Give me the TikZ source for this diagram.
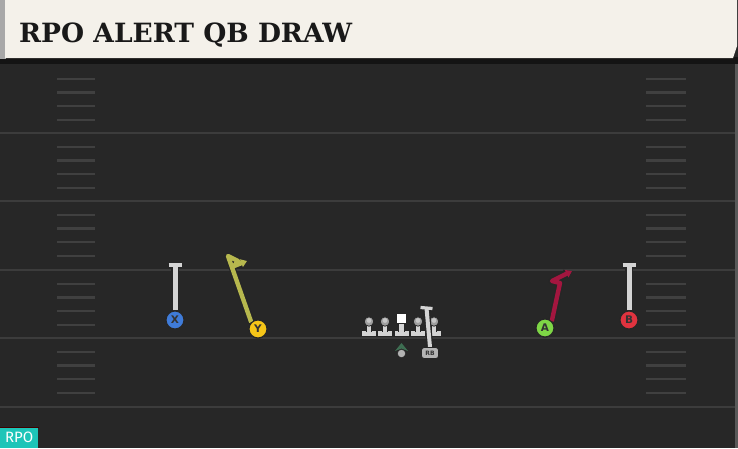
\documentclass[tikz,border=0pt]{standalone}
\usepackage{fontspec}
\setmainfont{DejaVu Serif}
\newfontfamily\titlefont{DejaVu Serif}
\newfontfamily\labfont{Fira Sans}
\newfontfamily\letterfont{DejaVu Sans}
\usetikzlibrary{arrows.meta}
\definecolor{fieldbg}{HTML}{272727}
\definecolor{fieldline}{HTML}{3C3C3C}
\definecolor{hashc}{HTML}{404040}
\definecolor{cream}{HTML}{F4F1EA}
\definecolor{hdrgray}{HTML}{A8A8A8}
\definecolor{stemc}{HTML}{D4D4D4}
\definecolor{xblue}{HTML}{3F7BD8}
\definecolor{yyellow}{HTML}{F5C518}
\definecolor{agreen}{HTML}{7ED646}
\definecolor{bred}{HTML}{E0333F}
\definecolor{yroute}{HTML}{B7B84E}
\definecolor{aroute}{HTML}{A3163F}
\definecolor{qbgreen}{HTML}{3E6E52}
\definecolor{rpoteal}{HTML}{1DC5B8}
\tikzset{
  fline/.style={draw=fieldline, line width=2.4pt},
  hashmark/.style={draw=hashc, line width=2.4pt},
  player/.style={circle, draw=black!85, line width=1.1pt, minimum size=18pt, inner sep=0pt,
     font=\letterfont\bfseries\fontsize{10.5}{10.5}\selectfont, text=black!80},
  stemout/.style={draw=black!85, line width=7.5pt},
  stemin/.style={draw=stemc, line width=5pt},
  routeout/.style={draw=black!85, line width=6.8pt, line join=round},
  routein/.style={line width=4.4pt, line join=round},
  lmbody/.style={fill=stemc, draw=black!85, line width=0.9pt},
  rbbox/.style={rounded corners=2.5pt, fill=stemc!85!black, draw=black!85, line width=0.9pt,
     minimum width=17pt, minimum height=11pt, inner sep=0pt,
     font=\letterfont\bfseries\fontsize{6}{6}\selectfont, text=black!80},
}
\begin{document}
\begin{tikzpicture}[x=1pt,y=-1pt]
\useasboundingbox (0,0) rectangle (738,448);
\fill[fieldbg] (0,0) rectangle (738,448);
% field lines
\foreach \yy in {133,201,270,338,407} { \draw[fline] (0,\yy) -- (738,\yy); }
% hash marks
\foreach \base in {65,133,201,270,338} {
  \foreach \k in {1,2,3,4} {
    \draw[hashmark] (57,\base+\k*13.7) -- (95,\base+\k*13.7);
    \draw[hashmark] (646,\base+\k*13.7) -- (686,\base+\k*13.7);
  }
}
% right edge strip
\fill[black!65] (735,62) rectangle (738,448);
% header
\fill[black!92] (0,57) rectangle (738,64);
\fill[hdrgray] (0,0) rectangle (6,59);
\fill[cream] (5,0) -- (737,0) -- (737,46) -- (733,58) -- (5,58) -- cycle;
\node[anchor=base west, inner sep=0pt, font=\titlefont\bfseries\fontsize{26.5}{26.5}\selectfont, text=black!90] (title) at (19,42.5) {RPO ALERT QB DRAW};

% X receiver
\node[player, fill=xblue] (X) at (175,320) {X};
\coordinate (xtop) at (175,265);
\draw[stemout] (X.north) -- (xtop);
\draw[stemout, line width=5.5pt] (168,265) -- (182,265);
\draw[stemin] (X.north) -- (xtop);
\draw[stemin, line width=3.2pt] (168.5,265) -- (181.5,265);
\node[player, fill=xblue] at (X) {X};

% B receiver
\node[player, fill=bred] (B) at (629,320) {B};
\coordinate (btop) at (629,265);
\draw[stemout] (B.north) -- (btop);
\draw[stemout, line width=5.5pt] (622,265) -- (636,265);
\draw[stemin] (B.north) -- (btop);
\draw[stemin, line width=3.2pt] (622.5,265) -- (635.5,265);
\node[player, fill=bred] at (B) {B};

% Y receiver and route
\node[player, fill=yyellow] (Y) at (258,329) {Y};
\coordinate (y1) at (228,256);
\coordinate (y2) at (238,261);
\coordinate (y3) at (234,266);
\coordinate (y4) at (247,261);
\draw[routeout, -{Triangle[length=7.5pt,width=10pt]}] (Y.north west) -- (y1) -- (y2) -- (y3) -- (y4);
\draw[routein, draw=yroute, -{Triangle[length=6pt,width=8pt]}] (Y.north west) -- (y1) -- (y2) -- (y3) -- (y4);
\node[player, fill=yyellow] at (Y) {Y};

% A receiver and route
\node[player, fill=agreen] (A) at (545,328) {A};
\coordinate (a1) at (560,283);
\coordinate (a2) at (552,281);
\coordinate (a3) at (572,271);
\draw[routeout, -{Triangle[length=7.5pt,width=10pt]}] (A.north east) -- (a1) -- (a2) -- (a3);
\draw[routein, draw=aroute, -{Triangle[length=6pt,width=8pt]}] (A.north east) -- (a1) -- (a2) -- (a3);
\node[player, fill=agreen] at (A) {A};

% offensive line
\foreach \xx/\nm in {369/lt,385/lg,418/rg,434/rt} {
  \draw[lmbody] (\xx-7.5,330.5) rectangle (\xx+7.5,336.5);
  \draw[lmbody] (\xx-2.7,323) rectangle (\xx+2.7,331);
  \fill[stemc] (\xx-2.2,329.5) rectangle (\xx+2.2,332);
  \node[circle, fill=gray!75, draw=black!85, line width=0.8pt, minimum size=9.5pt, inner sep=0pt] (\nm) at (\xx,321.5) {};
  \fill[gray!45] (\xx,320.5) circle (2.4pt);
}
% center
\draw[lmbody] (394,330.5) rectangle (409,336.5);
\draw[lmbody] (398.8,322) rectangle (404.2,331);
\fill[stemc] (399.3,329.5) rectangle (403.7,332);
\node[rectangle, fill=white, draw=black!85, line width=0.8pt, minimum size=9.5pt, inner sep=0pt] (C) at (401.5,318.5) {};

% RB and route
\node[rbbox] (RB) at (430,353) {RB};
\coordinate (rbtop) at (426.5,308);
\draw[stemout, line width=6.5pt] (RB.north) -- (rbtop);
\draw[stemout, line width=5.5pt] (420,307.5) -- (433,308.5);
\draw[stemin, line width=4pt] (RB.north) -- (rbtop);
\draw[stemin, line width=3.2pt] (420.5,307.5) -- (432.5,308.5);
\node[rbbox] at (RB) {RB};

% QB
\node[circle, fill=gray!60, draw=black!85, line width=0.7pt, minimum size=8.5pt, inner sep=0pt] (QB) at (401.5,353.5) {};
\fill[qbgreen] (395,351) -- (401.5,343) -- (408,351) -- (401.5,348.5) -- cycle;

% RPO tag
\fill[black!75!red] (0,426.5) rectangle (39,428);
\node[anchor=south west, fill=rpoteal, minimum width=38pt, minimum height=20pt, inner sep=0pt,
  text=white, font=\labfont\fontsize{15}{15}\selectfont] (rpo) at (0,448) {RPO};
\end{tikzpicture}
\end{document}
